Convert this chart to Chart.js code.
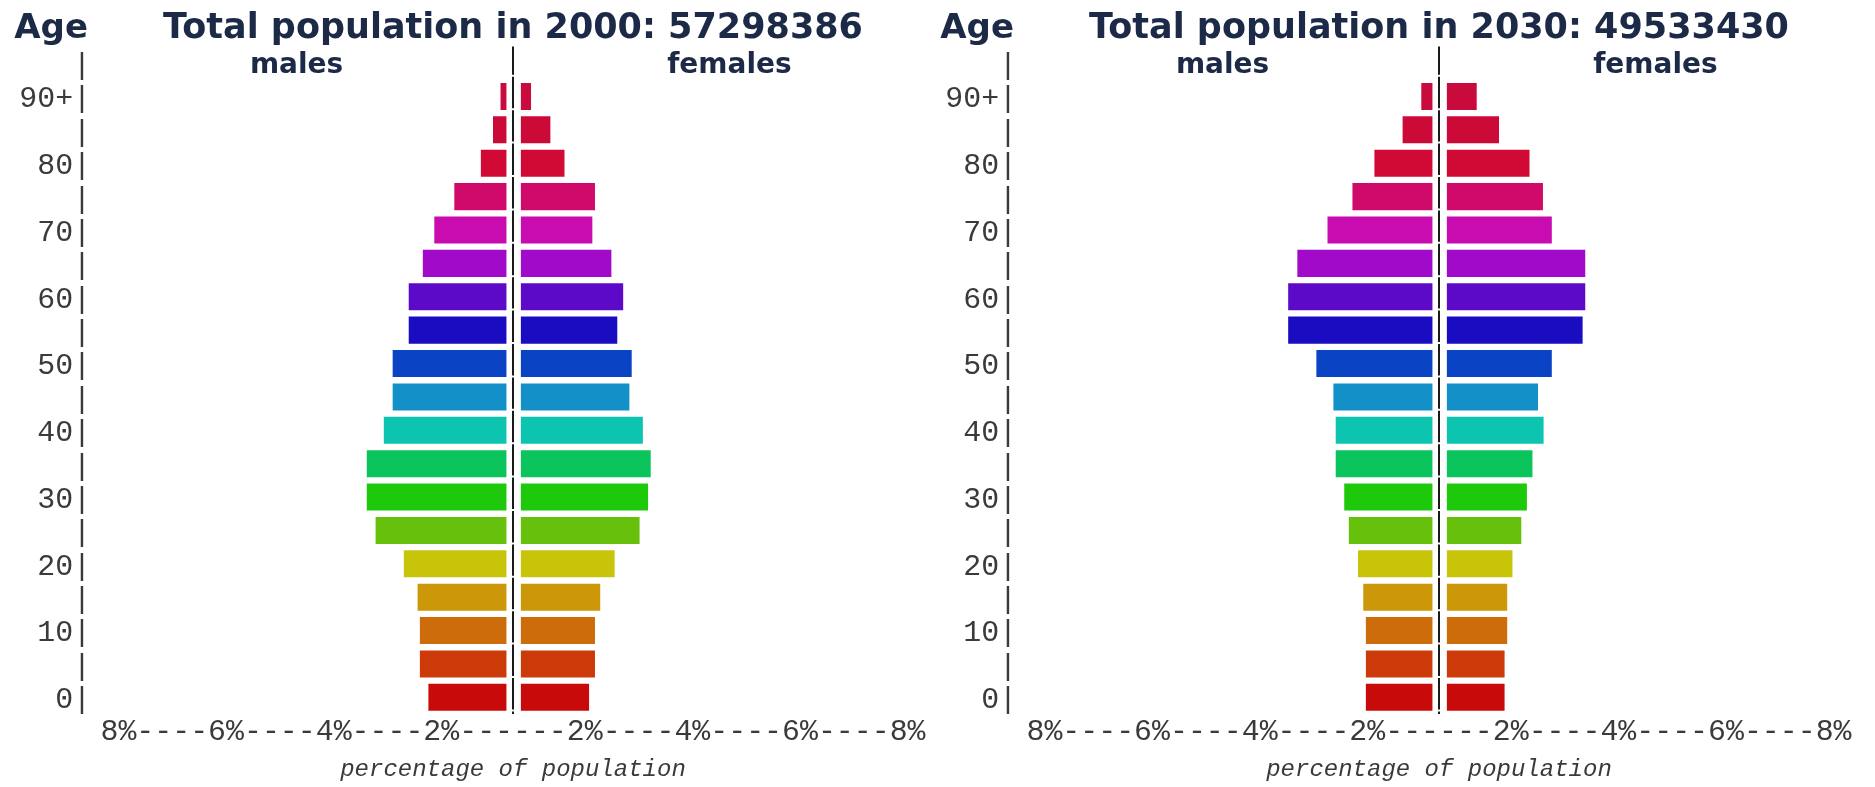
<!DOCTYPE html>
<html>
<head>
<meta charset="utf-8">
<script src="https://cdn.jsdelivr.net/npm/chart.js@4.4.1/dist/chart.umd.min.js"></script>
<style>
  html, body { margin: 0; padding: 0; background: #fff; }
  body { width: 1875px; height: 787px; position: relative; overflow: hidden; }
  canvas { position: absolute; top: 0; }
</style>
</head>
<body>
<canvas id="pyr2000" width="940" height="787" style="left:0"></canvas>
<canvas id="pyr2030" width="940" height="787" style="left:926px"></canvas>
<script>
// age groups, from the top of the pyramid down
const ageGroups = ['90+', '85-89', '80-84', '75-79', '70-74', '65-69', '60-64', '55-59', '50-54',
  '45-49', '40-44', '35-39', '30-34', '25-29', '20-24', '15-19', '10-14', '5-9', '0-4'];
const ageTickLabels = ['90+', '', '80', '', '70', '', '60', '', '50', '', '40', '', '30', '', '20', '', '10', '', '0'];
const barColors = ['#c90a3c', '#cc0a38', '#d00a34', '#d00a6a', '#c80cb0', '#a00ac8', '#5c0ac8', '#1a0cc0',
  '#0a44c4', '#1490c8', '#0cc4b0', '#0cc45c', '#1ec80a', '#66c00c', '#c8c40a', '#cc980a', '#cc6c0a', '#cc3a0a', '#c80a0a'];

// % of total population
const males2000   = [0.18, 0.41, 0.78, 1.59, 2.20, 2.55, 2.98, 2.98, 3.47, 3.47, 3.74, 4.26, 4.26, 3.99, 3.13, 2.71, 2.64, 2.64, 2.38];
const females2000 = [0.31, 0.90, 1.33, 2.26, 2.18, 2.76, 3.12, 2.94, 3.38, 3.31, 3.72, 3.96, 3.88, 3.62, 2.86, 2.42, 2.26, 2.26, 2.08];
const males2030   = [0.34, 0.91, 1.77, 2.44, 3.20, 4.12, 4.40, 4.40, 3.54, 3.02, 2.95, 2.95, 2.69, 2.55, 2.27, 2.11, 2.03, 2.03, 2.03];
const females2030 = [0.91, 1.59, 2.52, 2.93, 3.20, 4.22, 4.22, 4.14, 3.20, 2.78, 2.95, 2.61, 2.44, 2.27, 2.00, 1.84, 1.84, 1.76, 1.76];

const xTickLabels = ['8%', '6%', '4%', '2%', '2%', '4%', '6%', '8%'];
const sideLabels = ['males', 'females'];

const NAVY = '#1c2a48';
const GREY = '#3a3a3a';
const MONO = "'Liberation Mono', monospace";
const SANS = "'DejaVu Sans', sans-serif";
const xHalfRange = 12.87;
const gapM = 0.2, gapF = 0.24; // blank space either side of the centre line
const titlePadTop = 11.4;

// the dashed row of labels under the pyramid
const tickRow = xTickLabels.slice(0, 4).join('----') + '------' + xTickLabels.slice(4).join('----');

const headerText = {
  id: 'headerText',
  afterDraw(chart) {
    const { ctx, chartArea, scales: { x, y } } = chart;
    ctx.save();
    ctx.fillStyle = NAVY;
    ctx.textBaseline = 'middle';
    ctx.textAlign = 'center';
    ctx.font = 'bold 28px ' + SANS;
    const rowY = y.getPixelForValue(0) + 3;
    ctx.fillText(sideLabels[0], x.getPixelForValue(-6.6), rowY);
    ctx.fillText(sideLabels[1], x.getPixelForValue(6.6), rowY);
    ctx.textAlign = 'right';
    ctx.font = 'bold 34px ' + SANS;
    ctx.fillText('Age', chartArea.left - 3, chart.titleBlock.top + titlePadTop + 17.5);
    ctx.restore();
  }
};

function dessinerPyramide(id, year, total, males, females) {
  const ctx = document.getElementById(id).getContext('2d');
  new Chart(ctx, {
    type: 'bar',
    data: {
      labels: [''].concat(ageGroups),
      datasets: [{
        label: sideLabels[0],
        data: [null].concat(males.map(v => [-gapM, -gapM - v])),
        backgroundColor: ['transparent'].concat(barColors),
        grouped: false,
        barPercentage: 0.81,
        categoryPercentage: 1
      }, {
        label: sideLabels[1],
        data: [null].concat(females.map(v => [gapF, gapF + v])),
        backgroundColor: ['transparent'].concat(barColors),
        grouped: false,
        barPercentage: 0.81,
        categoryPercentage: 1
      }]
    },
    options: {
      indexAxis: 'y',
      responsive: false,
      animation: false,
      layout: { padding: { top: 0, right: 5, bottom: 3.3, left: 0 } },
      plugins: {
        legend: { display: false },
        tooltip: { enabled: false },
        title: {
          display: true,
          text: `Total population in ${year}: ${total}`,
          fullSize: false,
          color: NAVY,
          font: { family: SANS, size: 35, weight: 'bold', lineHeight: 1 },
          padding: { top: titlePadTop, bottom: 0 }
        },
        subtitle: {
          display: true,
          position: 'bottom',
          fullSize: false,
          text: 'percentage of population',
          color: GREY,
          font: { family: MONO, size: 24, style: 'italic' },
          padding: { top: 5, bottom: 0 }
        }
      },
      scales: {
        x: {
          type: 'linear',
          min: -xHalfRange,
          max: xHalfRange,
          afterBuildTicks: s => { s.ticks = [{ value: 0 }]; },
          ticks: { display: false },
          grid: { drawTicks: false, color: '#1a1a1a', lineWidth: 2 },
          border: { display: false, dash: [31.4, 2], dashOffset: 3 },
          title: {
            display: true,
            text: tickRow,
            color: GREY,
            font: { family: MONO, size: 29.9 },
            padding: { top: 0, bottom: 0 }
          }
        },
        y: {
          grid: { display: false, drawTicks: false },
          border: { display: false },
          afterFit: s => { s.width = 91; },
          ticks: {
            autoSkip: false,
            padding: 0,
            labelOffset: 3,
            color: GREY,
            font: { family: MONO, size: 29.9 },
            callback: (value, index) => (index === 0 ? '' : ageTickLabels[index - 1]) + '|'
          }
        }
      }
    },
    plugins: [headerText]
  });
}

dessinerPyramide('pyr2000', 2000, 57298386, males2000, females2000);
dessinerPyramide('pyr2030', 2030, 49533430, males2030, females2030);
</script>
</body>
</html>
